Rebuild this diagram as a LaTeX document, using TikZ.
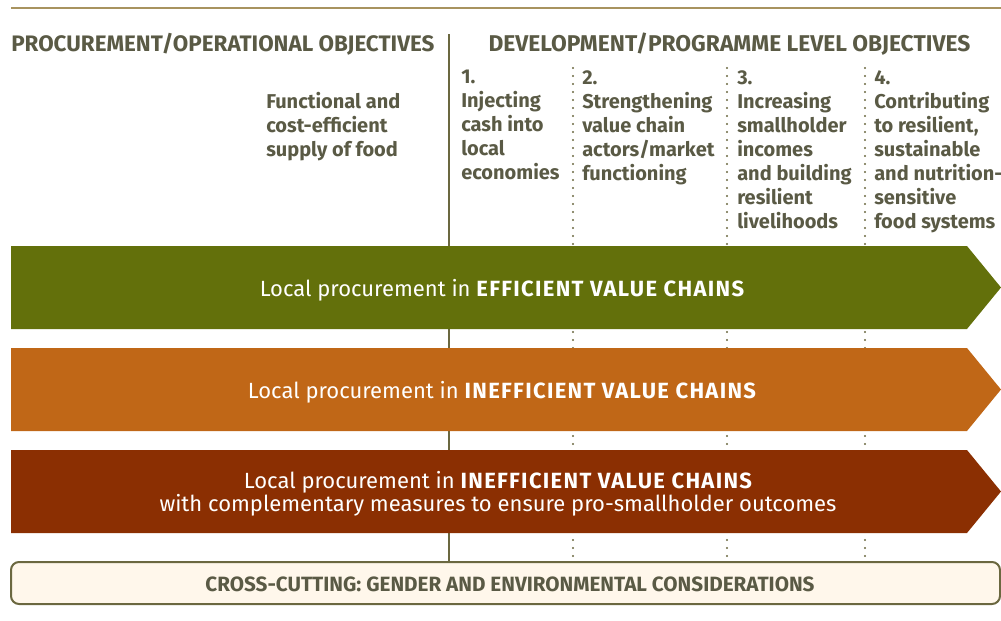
\documentclass[tikz,border=0pt]{standalone}
\usepackage{fontspec}
\setmainfont{Fira Sans}
\usetikzlibrary{positioning}

\definecolor{txtgray}{HTML}{5A5A45}
\definecolor{rulegray}{HTML}{6B6840}
\definecolor{tanline}{HTML}{A8935F}
\definecolor{bandgreen}{HTML}{63700B}
\definecolor{bandorange}{HTML}{C06717}
\definecolor{bandbrown}{HTML}{8B2F02}
\definecolor{boxcream}{HTML}{FFF7EB}

\newcommand{\bandcaps}[1]{{\bfseries\addfontfeature{LetterSpace=6}#1}}

\begin{document}
\begin{tikzpicture}[x=0.75pt,y=-0.75pt,
   headtxt/.style={font=\fontsize{16.8}{19}\selectfont\bfseries,text=txtgray,inner sep=0pt},
   coltxt/.style={font=\fontsize{15}{18}\selectfont\bfseries,text=txtgray,align=left,
     anchor=north west,inner sep=0pt},
   bandtxt/.style={font=\fontsize{16.5}{17.3}\selectfont,text=white,align=center},
   sepline/.style={rulegray,line width=1.5pt},
   dotline/.style={rulegray,line width=1.8pt,line cap=round,dash pattern=on 0pt off 6pt}]
   \useasboundingbox (0,0) rectangle (1001,621);
   % rules
   \draw[tanline,line width=1.5pt] (11,8) -- (1001,8);
   \draw[sepline] (449,34) -- (449,562);
   \foreach \x in {573,727,865} {
    \draw[dotline] (\x,68) -- (\x,560);
   }
   % headings
   \node[headtxt,anchor=west] (hproc) at (11,44) {PROCUREMENT/OPERATIONAL OBJECTIVES};
   \node[headtxt,font=\fontsize{17.1}{19}\selectfont\bfseries] (hdev) at (729.5,44)
     {DEVELOPMENT/PROGRAMME LEVEL OBJECTIVES};
   \node[coltxt] (supply) at (266,92) {Functional and\\cost-efficient\\supply of food};
   \node[coltxt] (obj1) at (461,70) {1.\\Injecting\\cash into\\local\\economies};
   \node[coltxt] (obj2) at (582,70) {2.\\Strengthening\\value chain\\actors/market\\functioning};
   \node[coltxt] (obj3) at (737,70) {3.\\Increasing\\smallholder\\incomes\\and building\\resilient\\livelihoods};
   \node[coltxt] (obj4) at (874,70) {4.\\Contributing\\to resilient,\\sustainable\\and nutrition-\\sensitive\\food systems};
   % bands
   \foreach \t/\c in {246/bandgreen,348/bandorange,450/bandbrown} {
    \fill[\c] (11,\t) -- (967,\t) -- (1001,\t+41.5) -- (967,\t+83) -- (11,\t+83) -- cycle;
   }
   \node[bandtxt] (eff) at (502,290) {Local procurement in \bandcaps{EFFICIENT VALUE CHAINS}};
   \node[bandtxt] (ineff) at (502,392) {Local procurement in \bandcaps{INEFFICIENT VALUE CHAINS}};
   \node[bandtxt] (compl) at (498,494) {Local procurement in \bandcaps{INEFFICIENT VALUE CHAINS}\\
     with complementary measures to ensure pro-smallholder outcomes};
   % cross-cutting
   \draw[rulegray,fill=boxcream,line width=1.5pt,rounded corners=6pt] (11,562) rectangle (1000,604);
   \node[headtxt,font=\fontsize{15.5}{18}\selectfont\bfseries] (cross) at (510,584)
     {CROSS-CUTTING: GENDER AND ENVIRONMENTAL CONSIDERATIONS};
\end{tikzpicture}
\end{document}
